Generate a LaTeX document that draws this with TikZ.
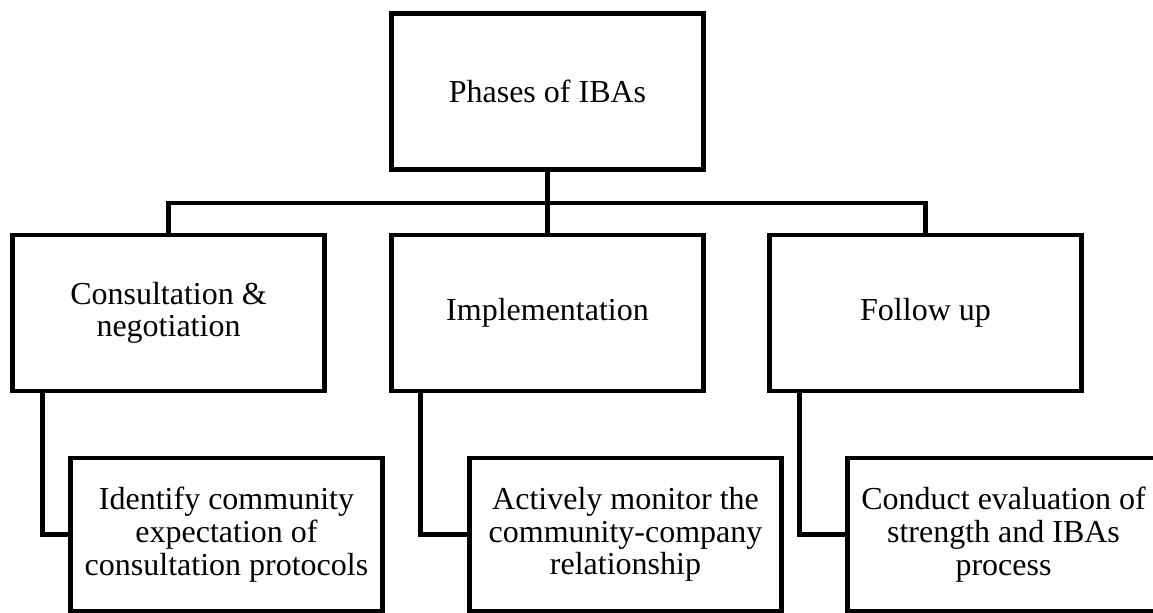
\documentclass[tikz,border=0pt]{standalone}
\usepackage{fontspec}
\setmainfont{Liberation Serif}
\begin{document}
\begin{tikzpicture}[x=0.75pt,y=-0.75pt,
  box/.style={draw=black,line width=3.4pt,rectangle,inner sep=0pt,
    minimum width=234pt,minimum height=117pt,align=center,
    font=\fontsize{24}{24.5}\selectfont},
  cbox/.style={box,minimum height=115pt},
  link/.style={draw=black,line width=3.4pt}]
\useasboundingbox (0,0) rectangle (1153,613);
\clip (0,0) rectangle (1153,613);
\node[box] (top) at (547.5,91.5) {Phases of IBAs};
\node[box] (b1) at (168.5,313) {Consultation \&\\negotiation};
\node[box] (b2) at (547.5,313) {Implementation};
\node[box] (b3) at (925.5,313) {Follow up};
\node[cbox] (c1) at (226.5,534.5) {Identify community\\expectation of\\consultation protocols};
\node[cbox] (c2) at (625.5,534.5) {Actively monitor the\\community-company\\relationship};
\node[cbox] (c3) at (1003.5,534.5) {Conduct evaluation of\\strength and IBAs\\process};
\coordinate (bar) at (547.5,203);
\draw[link] (top.south) -- (b2.north);
\draw[link] (b1.north) |- (bar) -| (b3.north);
\draw[link] ([xshift=24pt]b1.south west) |- (c1.west);
\draw[link] ([xshift=23.5pt]b2.south west) |- (c2.west);
\draw[link] ([xshift=24pt]b3.south west) |- (c3.west);
\end{tikzpicture}
\end{document}
